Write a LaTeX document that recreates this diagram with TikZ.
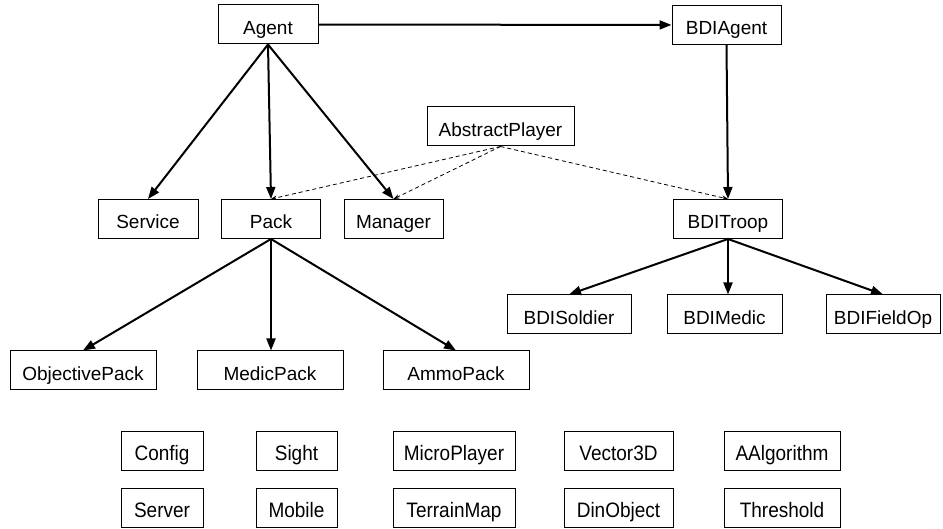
\documentclass[tikz,border=0pt]{standalone}
\usepackage{fontspec}
\setmainfont{Liberation Sans}
\usetikzlibrary{arrows.meta}

% slightly taller lettering used for the helper classes
\newcommand\tallname[1]{\scalebox{1}[1.1]{#1}}

\tikzset{
  cls/.style={draw, line width=1pt, fill=white, inner sep=0pt,
    minimum height=39pt, text height=20pt, text depth=0pt,
    font=\fontsize{19}{22}\selectfont},
  inherit/.style={line width=2pt, -{Triangle[length=12pt,width=9pt]}},
  realize/.style={line width=0.8pt, dash pattern=on 4pt off 3pt,
    -{Stealth[length=6pt,width=4.5pt]}}
}

\begin{document}
\begin{tikzpicture}[x=1pt,y=-1pt]
  \useasboundingbox (0,0) rectangle (943,529);

  % top level
  \node[cls, minimum width=100pt] (agent)    at (268,24.5)  {Agent};
  \node[cls, minimum width=109pt] (bdiagent) at (726.5,25)  {BDIAgent};
  \node[cls, minimum width=147pt] (abstract) at (500.5,126.5) {AbstractPlayer};

  % second level
  \node[cls, minimum width=100pt] (service)  at (148,219)   {Service};
  \node[cls, minimum width=99pt]  (pack)     at (271,219)   {Pack};
  \node[cls, minimum width=99pt]  (manager)  at (393.5,219) {Manager};
  \node[cls, minimum width=109pt] (bditroop) at (728,219)   {BDITroop};

  % troop subclasses
  \node[cls, minimum width=124pt] (soldier)  at (569,314.5)   {BDISoldier};
  \node[cls, minimum width=115pt] (medic)    at (724.5,314.5) {BDIMedic};
  \node[cls, minimum width=114pt] (fieldop)  at (883,314.5)   {BDIFieldOp};

  % pack subclasses
  \node[cls, minimum width=146pt] (objpack)   at (83,370.5)  {ObjectivePack};
  \node[cls, minimum width=146pt] (medicpack) at (270,370.5) {MedicPack};
  \node[cls, minimum width=146pt] (ammopack)  at (456,370.5) {AmmoPack};

  % standalone helper classes
  \node[cls, minimum width=82pt]  (config)  at (162,450.5)   {\tallname{Config}};
  \node[cls, minimum width=81pt]  (sight)   at (296.5,450.5) {\tallname{Sight}};
  \node[cls, minimum width=122pt] (micro)   at (454,450.5)   {\tallname{MicroPlayer}};
  \node[cls, minimum width=109pt] (vector)  at (618.5,450.5) {\tallname{Vector3D}};
  \node[cls, minimum width=116pt] (aalg)    at (782,450.5)   {\tallname{AAlgorithm}};
  \node[cls, minimum width=82pt]  (server)  at (162,507.5)   {\tallname{Server}};
  \node[cls, minimum width=81pt]  (mobile)  at (296.5,507.5) {\tallname{Mobile}};
  \node[cls, minimum width=122pt] (terrain) at (454,507.5)   {\tallname{TerrainMap}};
  \node[cls, minimum width=109pt] (dinobj)  at (618.5,507.5) {\tallname{DinObject}};
  \node[cls, minimum width=116pt] (thresh)  at (782,507.5)   {\tallname{Threshold}};

  % inheritance
  \draw[inherit] (agent) -- (bdiagent);
  \draw[inherit] (agent.south) -- (service.north);
  \draw[inherit] (agent.south) -- (pack.north);
  \draw[inherit] (agent.south) -- (manager.north);
  \draw[inherit] (bdiagent.south) -- (bditroop.north);
  \draw[inherit] (bditroop.south) -- (soldier.north);
  \draw[inherit] (bditroop.south) -- (bditroop.south |- medic.north);
  \draw[inherit] (bditroop.south) -- (fieldop.north);
  \draw[inherit] (pack.south) -- (objpack.north);
  \draw[inherit] (pack.south) -- (pack.south |- medicpack.north);
  \draw[inherit] (pack.south) -- (ammopack.north);

  % AbstractPlayer relations
  \draw[realize] (abstract.south) -- (pack.north);
  \draw[realize] (abstract.south) -- (manager.north);
  \draw[realize] (abstract.south) -- (bditroop.north);
\end{tikzpicture}
\end{document}
